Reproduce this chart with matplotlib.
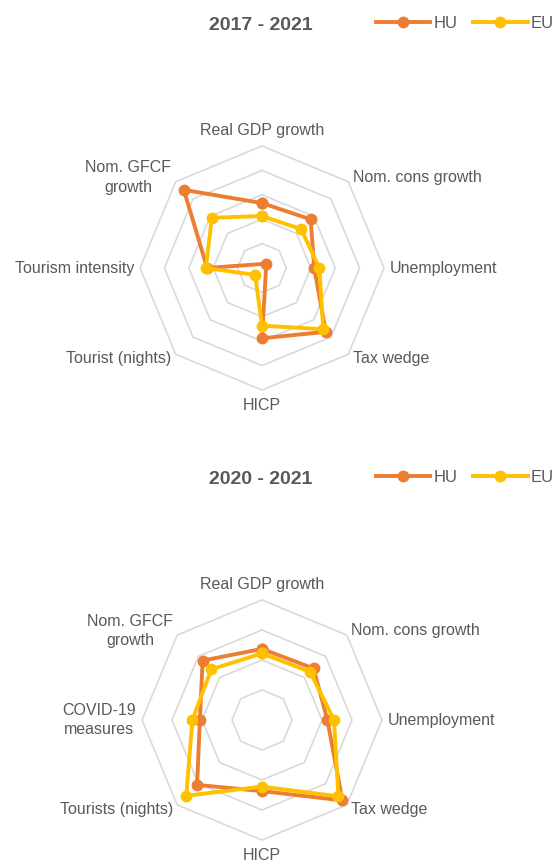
import numpy as np
import matplotlib
matplotlib.use("Agg")
import matplotlib.pyplot as plt

plt.rcParams["font.family"] = ["Liberation Sans", "DejaVu Sans"]

# data (values in ring units, 0 = centre)
labels_1 = ["Real GDP growth", "Nom. cons growth", "Unemployment", "Tax wedge",
            "HICP", "Tourist (nights)", "Tourism intensity", "Nom. GFCF\ngrowth"]
hu_1 = [2.66, 2.82, 2.14, 3.70, 2.88, -0.25, 2.25, 4.53]
eu_1 = [2.13, 2.26, 2.35, 3.55, 2.36, 0.40, 2.30, 2.91]

labels_2 = ["Real GDP growth", "Nom. cons growth", "Unemployment", "Tax wedge",
            "HICP", "Tourists (nights)", "COVID-19\nmeasures", "Nom. GFCF\ngrowth"]
hu_2 = [2.37, 2.43, 2.18, 3.79, 2.37, 3.06, 2.07, 2.80]
eu_2 = [2.22, 2.27, 2.40, 3.60, 2.22, 3.57, 2.32, 2.39]

titles = ["2017 - 2021", "2020 - 2021"]
series_names = ["HU", "EU"]

HU_COL = "#ED7D31"
EU_COL = "#FFC000"
GRID_COL = "#D9D9D9"
TXT_COL = "#595959"

W, H = 555, 864
fig = plt.figure(figsize=(W / 100, H / 100), dpi=100)


def radar(cx, cy, step, n_rings, labels, hu, eu, title, title_y):
    half = 165
    ax = fig.add_axes([(cx - half) / W, (H - cy - half) / H, 2 * half / W, 2 * half / H])
    lim = half / step
    ax.set_xlim(-lim, lim)
    ax.set_ylim(-lim, lim)
    ax.axis("off")

    n = len(labels)
    ang = np.deg2rad(np.arange(n) * 360 / n)
    angc = np.append(ang, ang[0])

    for k in range(1, n_rings + 1):
        ax.plot(k * np.sin(angc), k * np.cos(angc), color=GRID_COL, lw=1.2, zorder=1)

    lines = []
    for vals, col, z in [(hu, HU_COL, 3), (eu, EU_COL, 4)]:
        v = np.append(vals, vals[0])
        ln, = ax.plot(v * np.sin(angc), v * np.cos(angc), color=col, lw=2.8,
                      marker="o", ms=7.5, zorder=z, solid_joinstyle="round")
        lines.append(ln)

    R = n_rings * step
    for a, lab in zip(np.rad2deg(ang), labels):
        s, c = np.sin(np.deg2rad(a)), np.cos(np.deg2rad(a))
        if a in (0, 180):
            r, ha = R + 15, "center"
        else:
            r = R + 6
            ha = "left" if a < 180 else "right"
        ax.text(r / step * s, r / step * c, lab, ha=ha, va="center",
                multialignment="center", linespacing=1.35,
                fontsize=11.5, color=TXT_COL, clip_on=False)

    fig.text(261 / W, 1 - title_y / H, title, ha="center", va="center",
             fontsize=14, fontweight="bold", color=TXT_COL)
    fig.legend(lines, series_names, loc="center left", ncol=2,
               bbox_to_anchor=(376 / W, 1 - (title_y - 2) / H), frameon=False,
               fontsize=12, labelcolor=TXT_COL, handlelength=3.25,
               handletextpad=0.2, columnspacing=0.95, borderpad=0, borderaxespad=0)


radar(262, 268, 24.4, 5, labels_1, hu_1, eu_1, titles[0], 25)
radar(262, 720, 30.0, 4, labels_2, hu_2, eu_2, titles[1], 479)

fig.savefig("out.png", dpi=100, facecolor="white")
